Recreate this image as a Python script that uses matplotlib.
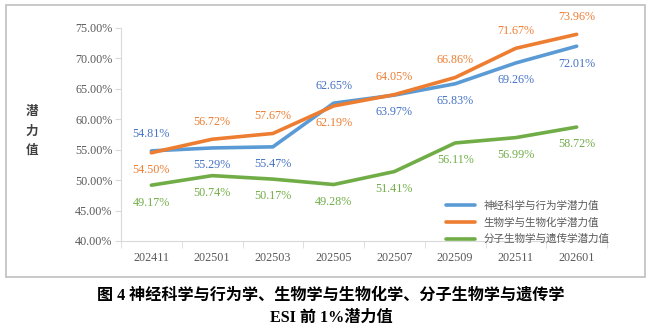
import matplotlib.pyplot as plt
from matplotlib.patches import Rectangle

months = ['202411', '202501', '202503', '202505', '202507', '202509', '202511', '202601']
neuro = [54.81, 55.29, 55.47, 62.65, 63.97, 65.83, 69.26, 72.01]
biochem = [54.50, 56.72, 57.67, 62.19, 64.05, 66.86, 71.67, 73.96]
molgen = [49.17, 50.74, 50.17, 49.28, 51.41, 56.11, 56.99, 58.72]
names = ['神经科学与行为学潜力值', '生物学与生物化学潜力值', '分子生物学与遗传学潜力值']

# label above (+1) or below (-1)
neuro_pos = [1, -1, -1, 1, -1, -1, -1, -1]
biochem_pos = [-1, 1, 1, -1, 1, 1, 1, 1]
molgen_pos = [-1] * 8

plt.rcParams['font.family'] = ['Liberation Serif', 'Noto Sans CJK SC']

fig = plt.figure(figsize=(6.54, 3.34), dpi=100)
fig.patches.append(Rectangle((6 / 654, 1 - 277 / 334), 639 / 654, 272 / 334,
                             transform=fig.transFigure, fill=False,
                             edgecolor='#BFBFBF', linewidth=1.2))
ax = fig.add_axes([121 / 654, 1 - 241 / 334, 486 / 654, 213 / 334])

x = list(range(len(months)))
series = [
    (neuro, neuro_pos, '#5B9BD5', '#4472C4'),
    (biochem, biochem_pos, '#ED7D31', '#ED7D31'),
    (molgen, molgen_pos, '#70AD47', '#70AD47'),
]
for (vals, pos, c, tc), nm in zip(series, names):
    ax.plot(x, vals, color=c, linewidth=2.6, label=nm, solid_capstyle='round')
    for xi, v, p in zip(x, vals, pos):
        ax.annotate(f'{v:.2f}%', (xi, v), xytext=(0, 12.5 * p), textcoords='offset points',
                    ha='center', va='center', color=tc, fontsize=8.7)

ax.set_xlim(-0.5, len(months) - 0.5)
ax.set_ylim(40, 75)
ax.set_yticks(range(40, 76, 5))
ax.set_yticklabels([f'{v:.2f}%' for v in range(40, 76, 5)], fontsize=8.7, color='#595959')
ax.set_xticks(x)
ax.set_xticklabels(months, fontsize=8.7, color='#595959')
ax.set_xticks([i - 0.5 for i in range(len(months) + 1)], minor=True)
ax.tick_params(axis='x', which='major', length=0, pad=8)
ax.tick_params(axis='x', which='minor', length=5, color='#D9D9D9')
ax.tick_params(axis='y', length=4, color='#D9D9D9', pad=2)
for s in ['top', 'right']:
    ax.spines[s].set_visible(False)
for s in ['left', 'bottom']:
    ax.spines[s].set_color('#D9D9D9')

ax.legend(loc='lower right', frameon=False, handlelength=2.8,
          labelspacing=0.6, prop={'family': 'Noto Sans CJK SC', 'size': 7.6},
          bbox_to_anchor=(1.025, -0.06), labelcolor='#595959')

fig.text(32 / 654, 1 - 131 / 334, '潜\n力\n值', ha='center', va='center', fontsize=9,
         fontweight='bold', color='#404040', linespacing=1.6, family='Noto Sans CJK SC')

fig.text(331 / 654, 1 - 296 / 334, '图 4 神经科学与行为学、生物学与生物化学、分子生物学与遗传学',
         ha='center', va='center', fontsize=11.6, fontweight='bold', color='black')
fig.text(331 / 654, 1 - 318 / 334, 'ESI 前 1%潜力值',
         ha='center', va='center', fontsize=11.6, fontweight='bold', color='black')

fig.savefig('out.png', dpi=100)
